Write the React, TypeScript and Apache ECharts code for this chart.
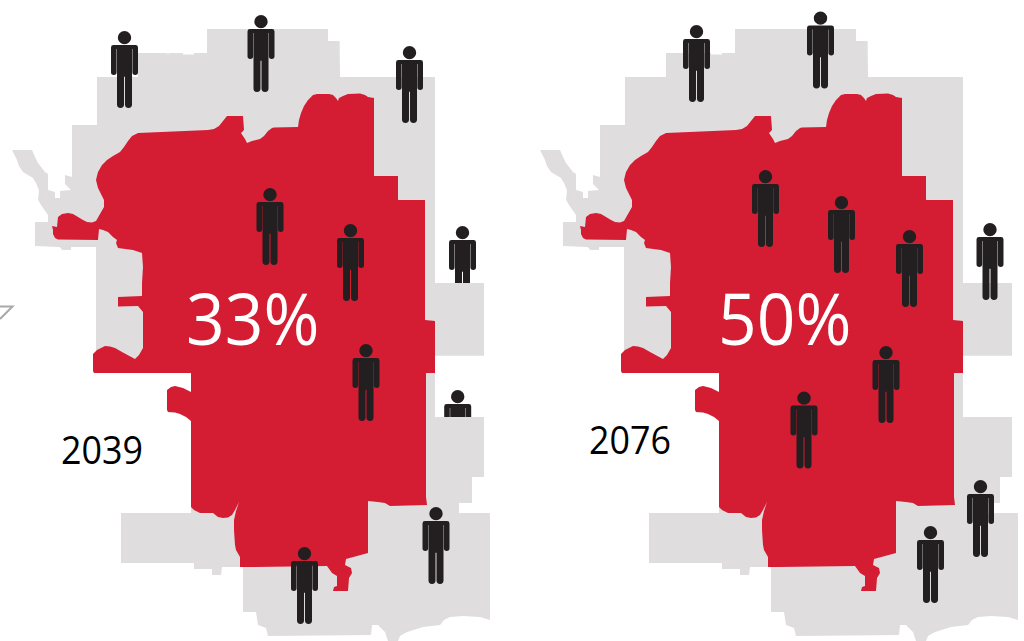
import React, { useEffect, useRef } from "react";
import * as echarts from "echarts";

const W = 1024;
const H = 641;

const panelOffsets = [0, 528];
const percentLabels = ["33%", "50%"];
const yearLabels = ["2039", "2076"];

const greyOutline = [
  [207,29],[328,29],[328,41],[339.6,41],[340,77],[435,77],[435,283],[484,283],[484,355.7],[435,355.7],[435,417],[484,417],[484,477],[472,477],[472,503],[459,503],[459,513],[490,513],[490,620],[480,617],[463,616],[450,617],[444,620],[440,625],[423,627],[407,632],[400,636],[398,641],[388,641],[385,632],[378,625],[372,625],[371,635],[268,636],[266,628],[258,625],[256,612],[243,612],[243,567],[222,567],[221,575],[212,575],[212,569],[194,569],[194,563],[121,563],[121,513],[191,513],[191,373],[96,373],[96,247],[71,247],[71,250],[62,250],[60,247],[35,246],[35,222],[48,222],[48,215],[43,208],[38,200],[39,190],[36,183],[33,178],[23,172],[19,166],[17,160],[12,150],[32,150],[35,157],[38,163],[45,172],[48,174],[48,190],[55,192],[55,198],[60,198],[60,191],[71,190],[65,184],[65,175],[72,177],[72,125],[97,125],[97,77],[138,77],[138,53],[167,53],[168,54],[169,53],[183,53],[183,54.5],[194,54.5],[194,53],[207,53],
];

const redOutline = [
  [227,116],[243,116],[244,130],[241,133],[245,139],[247,143],[252,141],[260,139],[264,136],[268,131],[272,128],[274,127.5],[298,127],[299,120],[301,113],[304,106],[308,100],[313,95],[317,94],[329,94],[333,95],[336,98],[338,101],[339,98],[343,96],[348,94],[360,93.5],[365,95],[368,97],[374,98],[374,176],[398,176],[398,200],[425,200],[425,320],[435,321],[435,373],[426,373],[426,497],[427,505],[390,506],[385,503],[378,502],[368,501],[368,553],[346,559],[345,565],[351,568],[352,573],[349,578],[348,591],[333,591],[334,587],[337,586],[337,576],[332,573],[327,566],[250,567],[240,567],[240,557],[236,550],[235,545],[234,530],[234,520],[236,511],[239,502],[235,510],[232,515],[228,517.5],[223,518],[218,517],[213,513],[200,513],[194,510],[191,507],[191,421],[186,417],[180,414],[175,412.5],[168,412],[167,410],[167,390],[171,387],[175,386],[183,388],[191,392],[191,373],[94,373],[93,371],[93,354],[97,350],[105,346],[110,346.5],[115,348],[122,352],[135,359],[139,355],[143,348],[143,312],[138,306],[118,306.5],[118,297],[142,296],[142,283],[143,267],[142,253],[133,250],[118,248],[116,243],[117,240],[113,237],[108,232],[103,230],[99,229],[98,240],[58,239.5],[55,238],[53,234],[53,230],[52,226],[57,227],[58,217],[62,214],[68,213],[73,214],[78,217],[83,220],[87,222],[92,222.5],[96,221],[100,214],[104,207],[104,200],[98,188],[96,180],[98,172],[102,165],[107,160],[113,156],[120,152],[124,147],[128,141],[132,136],[138,133],[150,132.5],[208,130],[214,129],[219,126],[223,121],
];

const arrowFragment = [[0,306.5],[12.5,306.5],[0,319]];

// people: [centre x, centre y]
const peopleHidden = [[462.5,264.5],[457.7,428.5]];
const peopleFront = [
  [124.5,69.5],[261,53.5],[409.5,84.5],[270,226.5],[350.5,262.5],[366,382.5],[436,545.5],[304.5,585.5],
  [696.5,63.5],[820.5,50],[765.5,208.5],[841.5,234.5],[909.5,268.5],[990,261.5],[886,384.5],[804,430],[980.5,518.5],[930.5,564.5],
];

const PERSON =
  "path://M6.8 6.7A6.7 6.7 0 1 1 20.2 6.7A6.7 6.7 0 1 1 6.8 6.7ZM2.5 14H24.5A2.5 2.5 0 0 1 27 16.5V41.5A2.8 2.8 0 0 1 21.4 41.5V18H21V74A3.3 3.3 0 0 1 14 74V46H13V74A3.3 3.3 0 0 1 6 74V18H5.6V41.5A2.8 2.8 0 0 1 0 41.5V16.5A2.5 2.5 0 0 1 2.5 14Z";

const GREY = "#dfddde";
const RED = "#d41c33";
const INK = "#231f20";

function regionSeries(points: number[][], fill: string, z: number) {
  return {
    type: "custom",
    coordinateSystem: "cartesian2d",
    silent: true,
    z,
    clip: false,
    data: panelOffsets.map((dx) => [dx, 0]),
    renderItem: (_: any, api: any) => {
      const dx = api.value(0);
      return {
        type: "polygon",
        shape: { points: points.map((p) => api.coord([p[0] + dx, p[1]])) },
        style: { fill, stroke: "none" },
      };
    },
  };
}

function peopleSeries(points: number[][], z: number) {
  return {
    type: "scatter",
    silent: true,
    z,
    symbol: PERSON,
    symbolSize: [27, 77],
    symbolKeepAspect: false,
    itemStyle: { color: INK, opacity: 1 },
    data: points,
  };
}

export default function App() {
  const ref = useRef<HTMLDivElement>(null);
  useEffect(() => {
    const chart = echarts.init(ref.current!, undefined, { renderer: "svg" });
    const pctFont = '400 72px "Open Sans", sans-serif';
    const yearFont = '400 39px "Open Sans", sans-serif';
    chart.setOption({
      animation: false,
      backgroundColor: "#ffffff",
      grid: { left: 0, right: 0, top: 0, bottom: 0 },
      xAxis: { type: "value", min: 0, max: W, show: false },
      yAxis: { type: "value", min: 0, max: H, inverse: true, show: false },
      series: [
        peopleSeries(peopleHidden, 1),
        regionSeries(greyOutline, GREY, 2),
        regionSeries(redOutline, RED, 3),
        peopleSeries(peopleFront, 4),
        {
          type: "custom",
          coordinateSystem: "cartesian2d",
          silent: true,
          z: 2,
          data: [[0, 0]],
          renderItem: (_: any, api: any) => ({
            type: "polyline",
            shape: { points: arrowFragment.map((p) => api.coord(p)) },
            style: { fill: "none", stroke: "#a9a9a9", lineWidth: 2 },
          }),
        },
      ],
      graphic: [
        ...percentLabels.map((t, i) => ({
          type: "text",
          z: 10,
          x: [186, 718][i],
          y: 317,
          scaleX: 0.94,
          style: { text: t, font: pctFont, fill: "#ffffff", verticalAlign: "middle", align: "left" },
        })),
        ...yearLabels.map((t, i) => ({
          type: "text",
          z: 10,
          x: [61, 589][i],
          y: [449, 439][i],
          scaleX: 0.92,
          style: { text: t, font: yearFont, fill: "#000000", verticalAlign: "middle", align: "left" },
        })),
      ],
    });
    return () => chart.dispose();
  }, []);
  return <div ref={ref} style={{ position: "absolute", left: 0, top: 0, width: W, height: H }} />;
}
